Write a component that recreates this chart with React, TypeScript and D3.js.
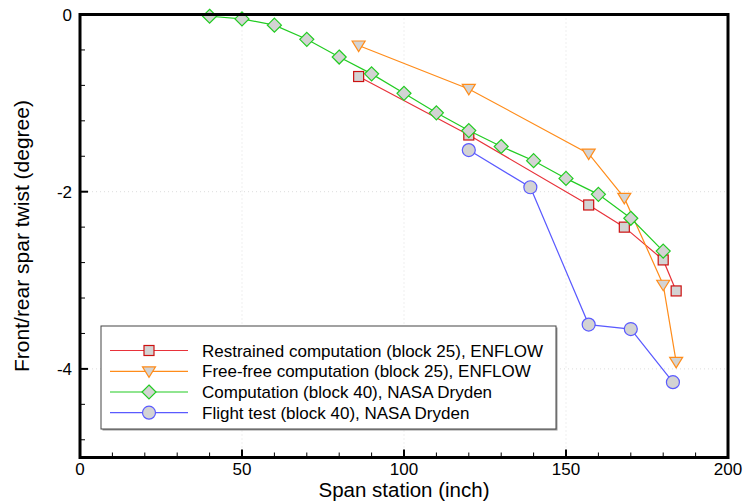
import React from "react";
import * as d3 from "d3";

const restrainedX = [86, 120, 157, 168, 180, 184];
const restrainedY = [-0.70, -1.36, -2.15, -2.40, -2.77, -3.12];
const freeX = [86, 120, 157, 168, 180, 184];
const freeY = [-0.35, -0.84, -1.57, -2.07, -3.05, -3.92];
const compX = [40, 50, 60, 70, 80, 90, 100, 110, 120, 130, 140, 150, 160, 170, 180];
const compY = [-0.02, -0.05, -0.12, -0.28, -0.48, -0.67, -0.89, -1.11, -1.31, -1.49, -1.65, -1.85, -2.03, -2.30, -2.67];
const flightX = [120, 139, 157, 170, 183];
const flightY = [-1.53, -1.95, -3.50, -3.55, -4.15];

const xMajor = [0, 50, 100, 150, 200];
const yMajor = [0, -2, -4];
const legendLabels = [
  "Restrained computation (block 25), ENFLOW",
  "Free-free computation (block 25), ENFLOW",
  "Computation (block 40), NASA Dryden",
  "Flight test (block 40), NASA Dryden",
];

const W = 745, H = 504;
const L = 80, R = 728, T = 14.5, B = 457.5;
const FONT = "Liberation Sans, Arial, sans-serif";

type Series = { xs: number[]; ys: number[]; line: string; stroke: string; shape: string };
const series: Series[] = [
  { xs: restrainedX, ys: restrainedY, line: "#e8323a", stroke: "#cc1111", shape: "square" },
  { xs: freeX, ys: freeY, line: "#ff8c1a", stroke: "#ff8c1a", shape: "triangle" },
  { xs: compX, ys: compY, line: "#22cc22", stroke: "#22cc22", shape: "diamond" },
  { xs: flightX, ys: flightY, line: "#5a5aff", stroke: "#5a5aff", shape: "circle" },
];

function Marker({ shape, x, y, stroke }: { shape: string; x: number; y: number; stroke: string }) {
  const fill = "#d3d3d3";
  if (shape === "square")
    return <rect x={x - 5} y={y - 5} width={10} height={10} fill={fill} stroke={stroke} strokeWidth={1.2} />;
  if (shape === "triangle")
    return <path d={`M${x - 6.5},${y - 4.5}L${x + 6.5},${y - 4.5}L${x},${y + 6}Z`} fill={fill} stroke={stroke} strokeWidth={1.2} />;
  if (shape === "diamond")
    return <path d={`M${x},${y - 7}L${x + 7},${y}L${x},${y + 7}L${x - 7},${y}Z`} fill={fill} stroke={stroke} strokeWidth={1.2} />;
  return <circle cx={x} cy={y} r={6.5} fill={fill} stroke={stroke} strokeWidth={1.2} />;
}

export default function App() {
  const x = d3.scaleLinear().domain([0, 200]).range([L, R]);
  const y = d3.scaleLinear().domain([-5, 0]).range([B, T]);
  const xMinor = d3.range(0, 201, 10);
  const yMinor = d3.range(0, 26).map((i) => -i * 0.4).filter((v) => v >= -5.0001);
  const line = d3.line<[number, number]>().x((d) => x(d[0])).y((d) => y(d[1]));

  const legX = 101, legY = 326, legW = 455, legH = 103;
  const rowY = [350.5, 371.3, 392, 412.7];

  return (
    <svg width={W} height={H} style={{ position: "absolute", left: 0, top: 0 }}>
      <rect width={W} height={H} fill="#fff" />
      {/* grid */}
      {xMajor.slice(1, -1).map((v) => (
        <line key={"gx" + v} x1={x(v)} x2={x(v)} y1={T} y2={B} stroke="#ddd" strokeDasharray="1,3" />
      ))}
      {yMajor.slice(1).map((v) => (
        <line key={"gy" + v} x1={L} x2={R} y1={y(v)} y2={y(v)} stroke="#ddd" strokeDasharray="1,3" />
      ))}
      {/* ticks */}
      {xMinor.map((v) => (
        <line key={"xm" + v} x1={x(v)} x2={x(v)} y1={B} y2={B - (v % 50 === 0 ? 8 : 5)} stroke="#000" strokeWidth={v % 50 === 0 ? 2 : 1} />
      ))}
      {yMinor.map((v, i) => (
        <line key={"ym" + i} x1={L} x2={L + (i % 5 === 0 ? 8 : 5)} y1={y(v)} y2={y(v)} stroke="#000" strokeWidth={i % 5 === 0 ? 2 : 1} />
      ))}
      {/* series */}
      {series.map((s, i) => {
        const pts = s.xs.map((v, j) => [v, s.ys[j]] as [number, number]);
        return (
          <g key={"s" + i}>
            <path d={line(pts) || ""} fill="none" stroke={s.line} strokeWidth={1.2} />
            {pts.map((p, j) => (
              <Marker key={j} shape={s.shape} x={x(p[0])} y={y(p[1])} stroke={s.stroke} />
            ))}
          </g>
        );
      })}
      {/* frame */}
      <rect x={L} y={T} width={R - L} height={B - T} fill="none" stroke="#000" strokeWidth={3} />
      {/* tick labels */}
      {xMajor.map((v) => (
        <text key={"xl" + v} x={x(v)} y={475} textAnchor="middle" fontFamily={FONT} fontSize={17}>{v}</text>
      ))}
      {yMajor.map((v) => (
        <text key={"yl" + v} x={L - 8} y={y(v) + 6} textAnchor="end" fontFamily={FONT} fontSize={17}>{v}</text>
      ))}
      <text x={(L + R) / 2} y={497} textAnchor="middle" fontFamily={FONT} fontSize={20.5}>Span station (inch)</text>
      <text transform={`translate(29,${(T + B) / 2}) rotate(-90)`} textAnchor="middle" fontFamily={FONT} fontSize={21}>Front/rear spar twist (degree)</text>
      {/* legend */}
      <rect x={legX + 1.5} y={legY + 1.5} width={legW} height={legH} fill="#999" />
      <rect x={legX} y={legY} width={legW} height={legH} fill="#fff" stroke="#444" strokeWidth={1} />
      {series.map((s, i) => (
        <g key={"l" + i}>
          <line x1={110} x2={188} y1={rowY[i]} y2={rowY[i]} stroke={s.line} strokeWidth={1.2} />
          <Marker shape={s.shape} x={149} y={rowY[i]} stroke={s.stroke} />
          <text x={202} y={rowY[i] + 6} fontFamily={FONT} fontSize={17}>{legendLabels[i]}</text>
        </g>
      ))}
    </svg>
  );
}
